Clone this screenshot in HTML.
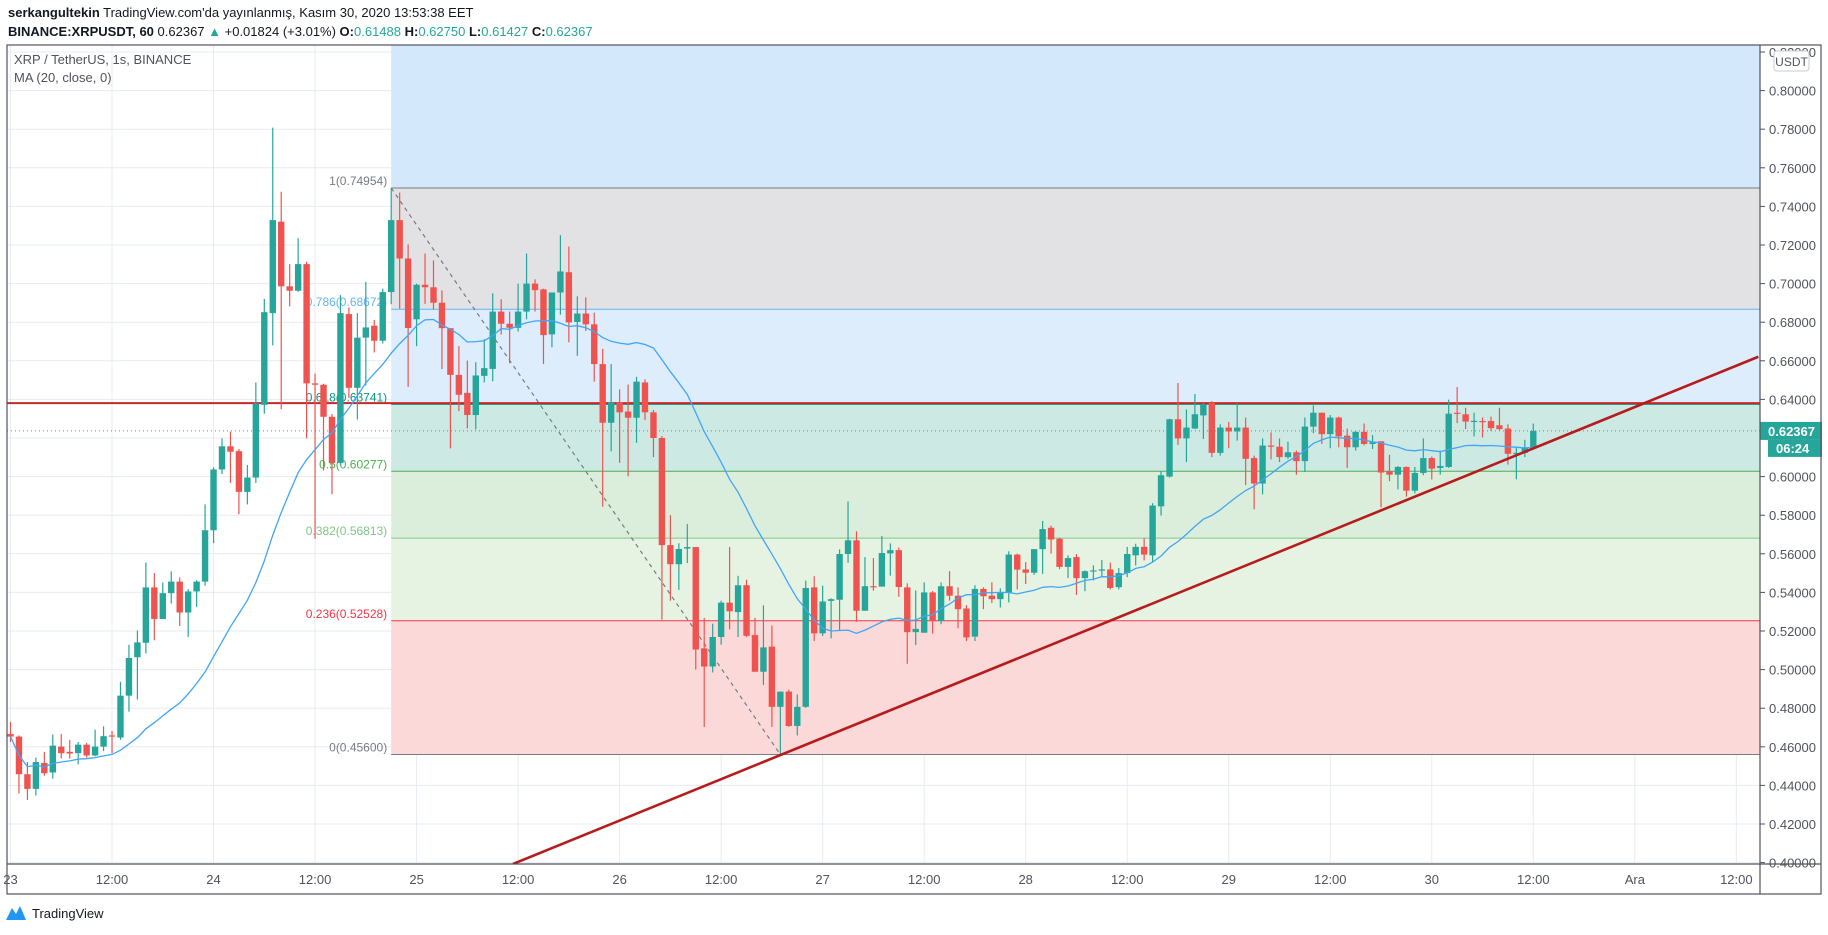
<!DOCTYPE html>
<html><head><meta charset="utf-8">
<style>
html,body{margin:0;padding:0;background:#fff;}
body{width:1828px;height:930px;overflow:hidden;font-family:"Liberation Sans",sans-serif;}
svg text{font-family:"Liberation Sans",sans-serif;}
</style></head>
<body>
<svg id="chart" width="1828" height="930" viewBox="0 0 1828 930" xmlns="http://www.w3.org/2000/svg">
  <text x="8" y="17" font-size="13" fill="#131722"><tspan font-weight="bold">serkangultekin</tspan> TradingView.com'da yayınlanmış, Kasım 30, 2020 13:53:38 EET</text>
  <text x="8" y="36" font-size="13" fill="#131722"><tspan font-weight="bold">BINANCE:XRPUSDT, 60</tspan> 0.62367 <tspan fill="#26a69a">▲</tspan> +0.01824 (+3.01%) <tspan font-weight="bold">O:</tspan><tspan fill="#26a69a">0.61488</tspan> <tspan font-weight="bold">H:</tspan><tspan fill="#26a69a">0.62750</tspan> <tspan font-weight="bold">L:</tspan><tspan fill="#26a69a">0.61427</tspan> <tspan font-weight="bold">C:</tspan><tspan fill="#26a69a">0.62367</tspan></text>
  <defs><clipPath id="pane"><rect x="7" y="45" width="1753" height="819"/></clipPath></defs>
  <g id="grid"></g>
  <g id="fib" clip-path="url(#pane)"></g>
  <g id="marks" clip-path="url(#pane)"></g>
  <g id="axes"></g>
  <rect x="7" y="45" width="1814" height="849" fill="none" stroke="#50535e" stroke-width="1.2"/>
  <line x1="1760" y1="45" x2="1760" y2="894" stroke="#50535e" stroke-width="1.2"/>
  <line x1="7" y1="864" x2="1821" y2="864" stroke="#50535e" stroke-width="1.2"/>
  <text x="14" y="64" font-size="13" fill="#50535e">XRP / TetherUS, 1s, BINANCE</text>
  <text x="14" y="82" font-size="13" fill="#50535e">MA (20, close, 0)</text>
  <g>
    <path d="M6 920 L12 908 L16 914 L20 906 L26 920 Z" fill="#2196f3"/>
    <text x="32" y="918" font-size="13" fill="#131722">TradingView</text>
  </g>
</svg>
<script>
const opens=[.4666,.4653,.4458,.4382,.4516,.4467,.4601,.4574,.4567,.4611,.4555,.4601,.4659,.4648,.4865,.5064,.5139,.5426,.5262,.5396,.5456,.5296,.5405,.5456,.5722,.6037,.6157,.6132,.5921,.5995,.6372,.6847,.7321,.6986,.6963,.7101,.6483,.6476,.6310,.6071,.6842,.6460,.6720,.6782,.6704,.6956,.7329,.7130,.6815,.6994,.6981,.6901,.6769,.6527,.6434,.6319,.6522,.6558,.6855,.6792,.6771,.6855,.7000,.6970,.6737,.6954,.7059,.6801,.6845,.6789,.6583,.6279,.6384,.6337,.6305,.6488,.6333,.6200,.5645,.5546,.5627,.5635,.5110,.5016,.5169,.5347,.5298,.5437,.5179,.4989,.5119,.4807,.4886,.4708,.4807,.5426,.5188,.5356,.5362,.5599,.5670,.5305,.5432,.5430,.5602,.5619,.5426,.5194,.5191,.5400,.5252,.5432,.5383,.5317,.5171,.5418,.5383,.5365,.5397,.5596,.5519,.5502,.5624,.5735,.5678,.5532,.5583,.5474,.5508,.5514,.5519,.5427,.5500,.5592,.5636,.5592,.5846,.6000,.6297,.6198,.6249,.6317,.6382,.6123,.6254,.6234,.6254,.6096,.5964,.6161,.6155,.6101,.6126,.6080,.6259,.6331,.6220,.6306,.6212,.6152,.6232,.6169,.6183,.6027,.6010,.6050,.5927,.6019,.6096,.6045,.6050,.6331,.6323,.6288,.6288,.6288,.6266,.6249,.6121,.6123,.6147];
const highs=[.4729,.4659,.4521,.4544,.4574,.4664,.4666,.4636,.4625,.4620,.4689,.4706,.4682,.4937,.5129,.5203,.5555,.5500,.5451,.5509,.5477,.5417,.5463,.5856,.6048,.6198,.6233,.6143,.6060,.6488,.6921,.7808,.7476,.7101,.7235,.7113,.6534,.6481,.6324,.6940,.6877,.6847,.7009,.6812,.6974,.7495,.7472,.7203,.7000,.7156,.7120,.6965,.6769,.6676,.6601,.6593,.6712,.6950,.6919,.6855,.7000,.7156,.7022,.6974,.6954,.7251,.7192,.6934,.6929,.6849,.6662,.6583,.6452,.6477,.6517,.6504,.6345,.6210,.5800,.5655,.5754,.5635,.5268,.5238,.5357,.5635,.5486,.5466,.5268,.5333,.5228,.4886,.4896,.4871,.5461,.5484,.5435,.5369,.5623,.5871,.5717,.5583,.5578,.5692,.5654,.5633,.5447,.5410,.5452,.5407,.5452,.5510,.5426,.5334,.5437,.5426,.5452,.5421,.5613,.5601,.5557,.5624,.5770,.5746,.5683,.5592,.5599,.5514,.5540,.5568,.5554,.5526,.5636,.5652,.5680,.5862,.6028,.6300,.6485,.6348,.6428,.6382,.6391,.6271,.6283,.6379,.6306,.6109,.6198,.6229,.6198,.6181,.6135,.6306,.6369,.6331,.6319,.6311,.6249,.6234,.6275,.6215,.6183,.6113,.6055,.6053,.6050,.6198,.6104,.6135,.6399,.6464,.6357,.6331,.6306,.6311,.6357,.6271,.6152,.6191,.6275];
const lows=[.4625,.4358,.4324,.4347,.4451,.4435,.4539,.4539,.4509,.4544,.4551,.4578,.4567,.4636,.4782,.4845,.5083,.5152,.5262,.5342,.5226,.5169,.5324,.5435,.5655,.6013,.5967,.5805,.5856,.5967,.6326,.6680,.6349,.6882,.6958,.6198,.5678,.6032,.5909,.6060,.6407,.6296,.6472,.6643,.6690,.6893,.6870,.6465,.6676,.6895,.6865,.6557,.6146,.6339,.6250,.6244,.6488,.6494,.6736,.6587,.6752,.6815,.6855,.6583,.6670,.6839,.6696,.6626,.6755,.6492,.5844,.6131,.6071,.6002,.6175,.6293,.6101,.5259,.5357,.5413,.5552,.5000,.4703,.4985,.5129,.5209,.5169,.5169,.4989,.4920,.4703,.4560,.4703,.4659,.4802,.5148,.5174,.5162,.5202,.5553,.5247,.5305,.5409,.5430,.5487,.5377,.5030,.5127,.5191,.5186,.5235,.5357,.5214,.5148,.5148,.5313,.5345,.5322,.5348,.5415,.5444,.5491,.5496,.5601,.5520,.5474,.5387,.5406,.5462,.5484,.5415,.5415,.5479,.5540,.5566,.5557,.5798,.5995,.6164,.6075,.6246,.6195,.6101,.6109,.6147,.6186,.5956,.5831,.5908,.6089,.6075,.6092,.6010,.6024,.6225,.6169,.6147,.6152,.6044,.6135,.6161,.6143,.5841,.5976,.5934,.5896,.5913,.6007,.5985,.6010,.6045,.6277,.6246,.6208,.6203,.6237,.6241,.6062,.5986,.6101,.6143];
const closes=[.4653,.4458,.4382,.4521,.4463,.4606,.4567,.4565,.4611,.4555,.4601,.4655,.4653,.4865,.5060,.5141,.5426,.5262,.5396,.5456,.5296,.5405,.5456,.5722,.6037,.6157,.6129,.5921,.5995,.6379,.6852,.7329,.6986,.6963,.7101,.6483,.6476,.6310,.6071,.6847,.6460,.6720,.6773,.6704,.6956,.7329,.7130,.6770,.6994,.6981,.6901,.6769,.6527,.6424,.6319,.6524,.6562,.6855,.6792,.6771,.6855,.7000,.6966,.6733,.6954,.7063,.6799,.6845,.6789,.6583,.6279,.6384,.6333,.6305,.6492,.6333,.6200,.5645,.5546,.5625,.5635,.5104,.5016,.5169,.5347,.5302,.5437,.5175,.4989,.5115,.4807,.4886,.4708,.4807,.5423,.5188,.5353,.5365,.5599,.5670,.5305,.5432,.5428,.5604,.5619,.5428,.5194,.5211,.5400,.5252,.5432,.5383,.5313,.5167,.5418,.5380,.5365,.5397,.5596,.5518,.5502,.5624,.5728,.5674,.5532,.5578,.5474,.5510,.5514,.5519,.5423,.5500,.5599,.5636,.5596,.5850,.6007,.6297,.6198,.6254,.6323,.6374,.6123,.6254,.6234,.6254,.6092,.5964,.6161,.6155,.6101,.6126,.6080,.6259,.6331,.6220,.6306,.6208,.6152,.6232,.6169,.6178,.6021,.6010,.6050,.5927,.6019,.6096,.6041,.6055,.6326,.6326,.6285,.6289,.6285,.6251,.6246,.6118,.6123,.6152,.6237];
const priceTicks=[0.40,0.42,0.44,0.46,0.48,0.50,0.52,0.54,0.56,0.58,0.60,0.62,0.64,0.66,0.68,0.70,0.72,0.74,0.76,0.78,0.80,0.82];
const timeLabels=["23","12:00","24","12:00","25","12:00","26","12:00","27","12:00","28","12:00","29","12:00","30","12:00","Ara","12:00"];
const fibRatios=["1","0.786","0.618","0.5","0.382","0.236","0"];
const fibPrices=[0.74954,0.68672,0.63741,0.60277,0.56813,0.52528,0.456];
const fibFills=["#e2e2e4","#ddedfb","#cde9e3","#dbeedb","#e7f3e2","#fbd9d8"];
const fibLines=["#787b86","#64b5f6","#089981","#4caf50","#81c784","#f23645","#787b86"];
const fibText=["#787b86","#64b5f6","#089981","#4caf50","#81c784","#f23645","#787b86"];
const fibStartIdx=45, fibEndIdx=91;
const trendStart=[59.4,0.3993], trendEnd=[206.6,0.6621];
const hLinePrice=0.6381, lastPrice=0.62367;

const NS="http://www.w3.org/2000/svg";
const x0=10.5, dx=8.46;
function X(i){return x0+i*dx;}
function Y(p){return 90.6+(0.80-p)*1930;}
function mk(tag,attrs,parent){const e=document.createElementNS(NS,tag);for(const k in attrs)e.setAttribute(k,attrs[k]);parent.appendChild(e);return e;}
const grid=document.getElementById('grid'),fib=document.getElementById('fib'),marks=document.getElementById('marks'),axes=document.getElementById('axes');
const paneL=7,paneR=1760,paneT=45,paneB=864;

priceTicks.forEach(p=>{const y=Y(p);
  if(y>paneT&&y<paneB){const l=mk('line',{x1:paneL,x2:paneR,y1:y,y2:y,stroke:'#e6ecf2','stroke-width':1},grid);
  
  }
  if(y>paneT-8&&y<paneB+4){const tk=mk('line',{x1:paneR,x2:paneR+5,y1:y,y2:y,stroke:'#50535e'},axes);
  
  
  const t=mk('text',{x:paneR+9,y:y+5,'font-size':13,fill:'#50535e'},axes);t.textContent=p.toFixed(5);
  
  }
});
timeLabels.forEach((s,k)=>{const x=X(k*12);
  const l=mk('line',{x1:x,x2:x,y1:paneT,y2:paneB,stroke:'#e6ecf2','stroke-width':1},grid);
  
  
  const t=mk('text',{x:x,y:884,'font-size':13,fill:'#50535e','text-anchor':'middle'},axes);t.textContent=s;
  
  
});
const fx1=X(fibStartIdx),fx2=paneR;
const topZone=mk('rect',{x:fx1,y:paneT,width:fx2-fx1,height:Y(fibPrices[0])-paneT,fill:'#d3e8fb'},fib);


for(let k=0;k<fibFills.length;k++){const r=mk('rect',{x:fx1,y:Y(fibPrices[k]),width:fx2-fx1,height:Y(fibPrices[k+1])-Y(fibPrices[k]),fill:fibFills[k]},fib);
  
  }
fibPrices.forEach((p,k)=>{const y=Y(p);
  const l=mk('line',{x1:fx1,x2:fx2,y1:y,y2:y,stroke:fibLines[k],'stroke-width':1},fib);
  
  
  const t=mk('text',{x:fx1-4,y:y-3,'font-size':12,fill:fibText[k],'text-anchor':'end'},fib);t.textContent=fibRatios[k]+'('+p.toFixed(5)+')';
  
  
});
const dl=mk('line',{x1:fx1,y1:Y(fibPrices[0]),x2:X(fibEndIdx),y2:Y(fibPrices[6]),stroke:'#787b86','stroke-width':1.2,'stroke-dasharray':'4 4'},fib);


const hl=mk('line',{x1:paneL,x2:paneR,y1:Y(hLinePrice),y2:Y(hLinePrice),stroke:'#c62828','stroke-width':2},marks);


const lp=mk('line',{x1:paneL,x2:paneR,y1:Y(lastPrice),y2:Y(lastPrice),stroke:'#26a69a','stroke-width':1,'stroke-dasharray':'1 3'},marks);


const nC=Math.min(opens.length,highs.length,lows.length,closes.length);
for(let i=0;i<nC;i++){
  const up=closes[i]>=opens[i],c=up?'#26a69a':'#ef5350',x=X(i);
  const g=mk('g',{},marks);
  
  
  mk('line',{x1:x,x2:x,y1:Y(highs[i]),y2:Y(lows[i]),stroke:c,'stroke-width':1.2},g);
  const yt=Y(Math.max(opens[i],closes[i])),yb=Y(Math.min(opens[i],closes[i]));
  mk('rect',{x:x-3.2,y:yt,width:6.4,height:Math.max(1.2,yb-yt),fill:c},g);
}
let pts=[];
for(let i=0;i<closes.length;i++){const s=closes.slice(Math.max(0,i-19),i+1);const m=s.reduce((a,b)=>a+b,0)/s.length;pts.push(X(i).toFixed(1)+','+Y(m).toFixed(1));}
const ma=mk('polyline',{points:pts.join(' '),fill:'none',stroke:'#42a5f5','stroke-width':1.3},marks);


const tl=mk('line',{x1:X(trendStart[0]),y1:Y(trendStart[1]),x2:X(trendEnd[0]),y2:Y(trendEnd[1]),stroke:'#b71c1c','stroke-width':2.6},marks);


const yl=Y(lastPrice);
const pb=mk('rect',{x:paneR,y:yl-9,width:62,height:18,fill:'#26a69a'},axes);


const pt=mk('text',{x:paneR+8,y:yl+5,'font-size':13,'font-weight':'bold',fill:'#fff'},axes);pt.textContent=lastPrice.toFixed(5);


const cb=mk('rect',{x:paneR+8,y:yl+9,width:54,height:17,fill:'#26a69a'},axes);


const ct=mk('text',{x:paneR+16,y:yl+22,'font-size':13,'font-weight':'bold',fill:'#fff'},axes);ct.textContent='06:24';


const ub=mk('rect',{x:1774,y:51,width:35,height:20,rx:3,fill:'#fff',stroke:'#c8cbd2'},axes);


const ut=mk('text',{x:1791.5,y:66,'font-size':12,fill:'#50535e','text-anchor':'middle'},axes);ut.textContent='USDT';


</script>
</body></html>
